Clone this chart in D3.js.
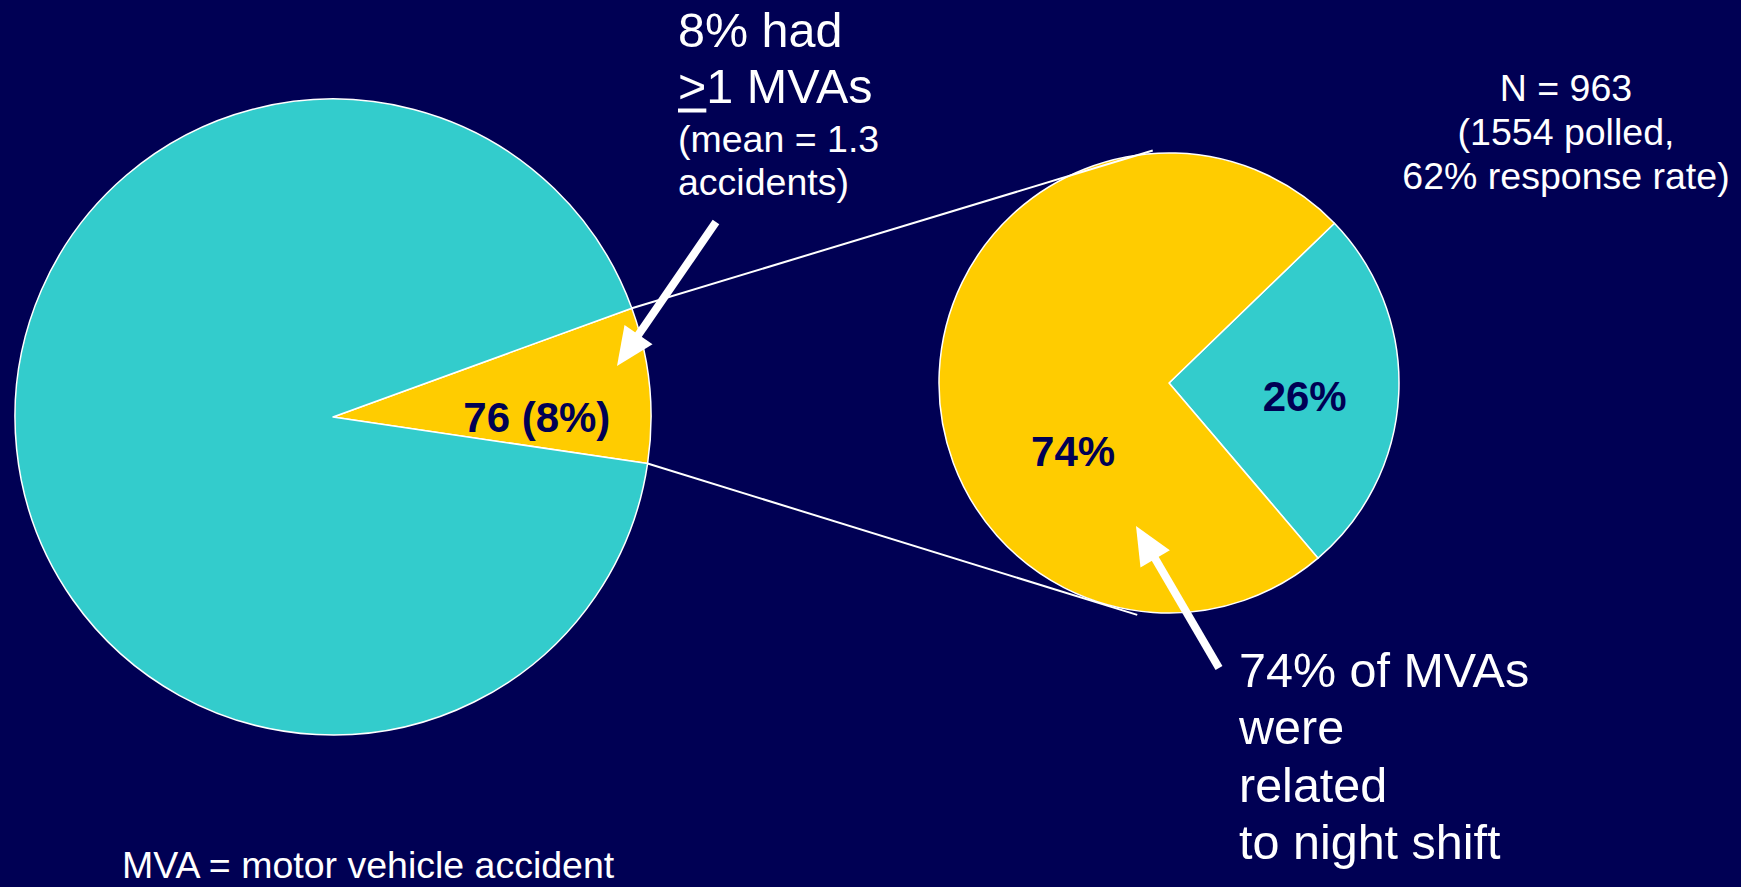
<!DOCTYPE html>
<html>
<head>
<meta charset="utf-8">
<script src="https://cdn.jsdelivr.net/npm/d3@7/dist/d3.min.js"></script>
<style>
  body { margin: 0; background: #000054; overflow: hidden; }
  svg { display: block; font-family: "Liberation Sans", Arial, sans-serif; }
</style>
</head>
<body>
<div id="chart"></div>
<script>
"use strict";

// all respondents (N = 963): who had at least one MVA
const allCategories = ["\u22651 MVAs", "No MVA"];
const allValues = [76, 887];
const allLabels = ["76 (8%)", ""];

// of those with MVAs: related to night shift or not
const mvaCategories = ["Not night shift", "Night shift"];
const mvaValues = [26, 74];
const mvaLabels = ["26%", "74%"];

const width = 1741, height = 887;
const bg = "#000054", teal = "#33cccc", gold = "#ffcc00";
const deg = Math.PI / 180;
const bigFont = 48.5, smallFont = 37.5;

const svg = d3.select("#chart").append("svg")
    .attr("width", width)
    .attr("height", height);

svg.append("rect")
    .attr("width", width)
    .attr("height", height)
    .attr("fill", bg);

// pie layout: centre, radius, where the first slice starts, label offsets (in radii)
let bigPie = { cx: 333, cy: 417, r: 318, start: 70 * deg,
               colors: [gold, teal], labelPos: [[0.641, 0.0], [0, 0]] };
let smallPie = { cx: 1169, cy: 383, r: 230, start: 46 * deg,
                 colors: [teal, gold], labelPos: [[0.59, 0.058], [-0.417, 0.296]] };

let drawPie = (cfg, values, labels) => {
  let pie = d3.pie().sort(null)
      .startAngle(cfg.start)
      .endAngle(cfg.start + 2 * Math.PI);
  let arc = d3.arc().innerRadius(0).outerRadius(cfg.r);
  let arcs = pie(values);

  let g = svg.append("g")
      .attr("transform", "translate(" + cfg.cx + "," + cfg.cy + ")");

  g.selectAll("path")
      .data(arcs)
    .enter().append("path")
      .attr("d", arc)
      .attr("fill", (d, i) => cfg.colors[i])
      .attr("stroke", "#fff")
      .attr("stroke-width", 1.5)
      .attr("stroke-linejoin", "round");

  g.selectAll("text")
      .data(arcs)
    .enter().append("text")
      .attr("x", (d, i) => cfg.labelPos[i][0] * cfg.r)
      .attr("y", (d, i) => cfg.labelPos[i][1] * cfg.r + 15)
      .attr("text-anchor", "middle")
      .attr("font-size", 42)
      .attr("font-weight", "bold")
      .attr("fill", bg)
      .text((d, i) => labels[i]);

  return arcs;
};

let bigArcs = drawPie(bigPie, allValues, allLabels);
let smallArcs = drawPie(smallPie, mvaValues, mvaLabels);

// connector lines from the MVA wedge to the small pie
let onCircle = (cfg, a, rr) => [cfg.cx + Math.sin(a) * rr, cfg.cy - Math.cos(a) * rr];
let wedge = bigArcs[0];
let connectors = [
  [onCircle(bigPie, wedge.startAngle, bigPie.r), onCircle(smallPie, -4 * deg, smallPie.r + 3)],
  [onCircle(bigPie, wedge.endAngle, bigPie.r), onCircle(smallPie, 187.8 * deg, smallPie.r + 4)]
];
svg.selectAll("line.connector")
    .data(connectors)
  .enter().append("line")
    .attr("class", "connector")
    .attr("x1", d => d[0][0]).attr("y1", d => d[0][1])
    .attr("x2", d => d[1][0]).attr("y2", d => d[1][1])
    .attr("stroke", "#fff")
    .attr("stroke-width", 2);

// arrows
let drawArrow = (tail, tip) => {
  let headLen = 38, headW = 34, shaftW = 8;
  let dx = tip[0] - tail[0], dy = tip[1] - tail[1];
  let L = Math.hypot(dx, dy), ux = dx / L, uy = dy / L;
  let nx = -uy, ny = ux;
  let base = [tip[0] - ux * headLen, tip[1] - uy * headLen];
  svg.append("line")
      .attr("x1", tail[0]).attr("y1", tail[1])
      .attr("x2", base[0] + ux * 2).attr("y2", base[1] + uy * 2)
      .attr("stroke", "#fff")
      .attr("stroke-width", shaftW);
  svg.append("polygon")
      .attr("points", [
        tip,
        [base[0] + nx * headW / 2, base[1] + ny * headW / 2],
        [base[0] - nx * headW / 2, base[1] - ny * headW / 2]
      ].map(p => p.join(",")).join(" "))
      .attr("fill", "#fff");
};
drawArrow([716, 222], [617, 366]);
drawArrow([1219, 668], [1136, 526]);

// text blocks
let textBlock = (x, anchor, lines) => {
  let t = svg.append("text")
      .attr("text-anchor", anchor)
      .attr("fill", "#fff");
  lines.forEach(l => {
    t.append("tspan")
        .attr("x", x)
        .attr("y", l.y)
        .attr("font-size", l.size)
        .text(l.text);
  });
  return t;
};

textBlock(678, "start", [
  { text: "8% had", y: 47, size: bigFont }
]);

// ">1 MVAs" with underlined ">"
let gt = svg.append("text")
    .attr("x", 678).attr("y", 103)
    .attr("font-size", bigFont)
    .attr("fill", "#fff");
gt.append("tspan").text(">");
gt.append("tspan").text("1 MVAs");
let gtW = gt.node().getSubStringLength(0, 1);
svg.append("rect")
    .attr("x", 678).attr("y", 108.5)
    .attr("width", gtW).attr("height", 4)
    .attr("fill", "#fff");

textBlock(678, "start", [
  { text: "(mean = 1.3", y: 152, size: smallFont },
  { text: "accidents)", y: 195, size: smallFont }
]);

textBlock(1566, "middle", [
  { text: "N = 963", y: 101, size: smallFont },
  { text: "(1554 polled,", y: 145, size: smallFont },
  { text: "62% response rate)", y: 189, size: smallFont }
]);

textBlock(1239, "start", [
  { text: "74% of MVAs", y: 687, size: bigFont },
  { text: "were", y: 744, size: bigFont },
  { text: "related", y: 802, size: bigFont },
  { text: "to night shift", y: 859, size: bigFont }
]);

textBlock(122, "start", [
  { text: "MVA = motor vehicle accident", y: 878, size: smallFont }
]);
</script>
</body>
</html>
